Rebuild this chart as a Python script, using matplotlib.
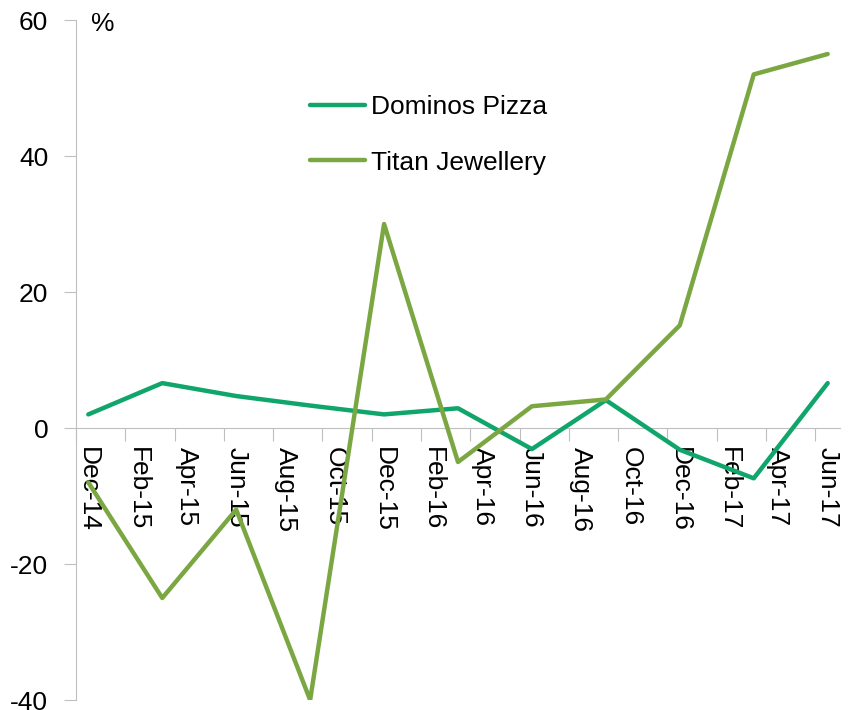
#!/usr/bin/env python3
"""Dominos Pizza vs Titan Jewellery: quarterly % change, Dec-14 to Jun-17."""

import matplotlib

matplotlib.use("Agg")
import matplotlib.pyplot as plt
import pandas as pd

plt.rcParams["font.family"] = ["Liberation Sans", "DejaVu Sans"]

# quarterly observations
QUARTERS = ["Dec-14", "Mar-15", "Jun-15", "Sep-15", "Dec-15", "Mar-16",
            "Jun-16", "Sep-16", "Dec-16", "Mar-17", "Jun-17"]
DOMINOS = [2.0, 6.6, 4.7, 3.3, 2.0, 2.9, -3.1, 4.1, -3.2, -7.4, 6.6]
TITAN = [-8.0, -25.0, -12.0, -40.0, 30.0, -5.0, 3.2, 4.2, 15.1, 52.0, 55.0]

Y_TICKS = [-40, -20, 0, 20, 40, 60]

DOMINOS_COLOR = "#10A56B"
TITAN_COLOR = "#7BA743"
AXIS_GRAY = "#BFBFBF"
FS = 19

months = pd.period_range("2014-12", "2017-06", freq="M")
month_pos = {p.strftime("%b-%y"): i for i, p in enumerate(months)}
x = [month_pos[q] for q in QUARTERS]
label_pos = list(range(0, len(months), 2))
labels = [months[i].strftime("%b-%y") for i in label_pos]

fig = plt.figure(figsize=(8.51, 7.10), dpi=100)
ax = fig.add_axes([76 / 851, 10 / 710, (840 - 76) / 851, 680 / 710])

line_kw = dict(lw=3.2, solid_capstyle="round", solid_joinstyle="round")
ax.plot(x, DOMINOS, color=DOMINOS_COLOR, label="Dominos Pizza", **line_kw)
ax.plot(x, TITAN, color=TITAN_COLOR, label="Titan Jewellery", **line_kw)

ax.set_xlim(-0.5, len(months) - 0.5)
ax.set_ylim(-40, 60)

for side in ("top", "right"):
    ax.spines[side].set_visible(False)
ax.spines["left"].set_color(AXIS_GRAY)
ax.spines["bottom"].set_color(AXIS_GRAY)
ax.spines["bottom"].set_position(("data", 0))
ax.spines["bottom"].set_zorder(0)

ax.set_yticks(Y_TICKS)
ax.set_yticklabels([str(v) for v in Y_TICKS])
ax.tick_params(axis="y", direction="out", length=9, color=AXIS_GRAY,
               labelsize=FS, pad=11)

# tick marks sit between months, labels sit on the labelled month
ax.set_xticks([p - 0.5 for p in label_pos])
ax.set_xticklabels([])
ax.set_xticks(label_pos, minor=True)
ax.set_xticklabels(labels, minor=True, rotation=-90, va="top", ha="center")
ax.tick_params(axis="x", which="major", direction="out", length=9,
               color=AXIS_GRAY)
ax.tick_params(axis="x", which="minor", length=0, labelsize=FS, pad=14)

fig.text(91 / 851, 1 - 24 / 710, "%", fontsize=FS, ha="left", va="center")

ax.legend(loc="upper left", bbox_to_anchor=(310 / 851, 1 - 95 / 710),
          bbox_transform=fig.transFigure, frameon=False, fontsize=FS,
          handlelength=2.1, handletextpad=0.2, labelspacing=1.2,
          borderpad=0, borderaxespad=0)

fig.savefig("out.png", dpi=100)
